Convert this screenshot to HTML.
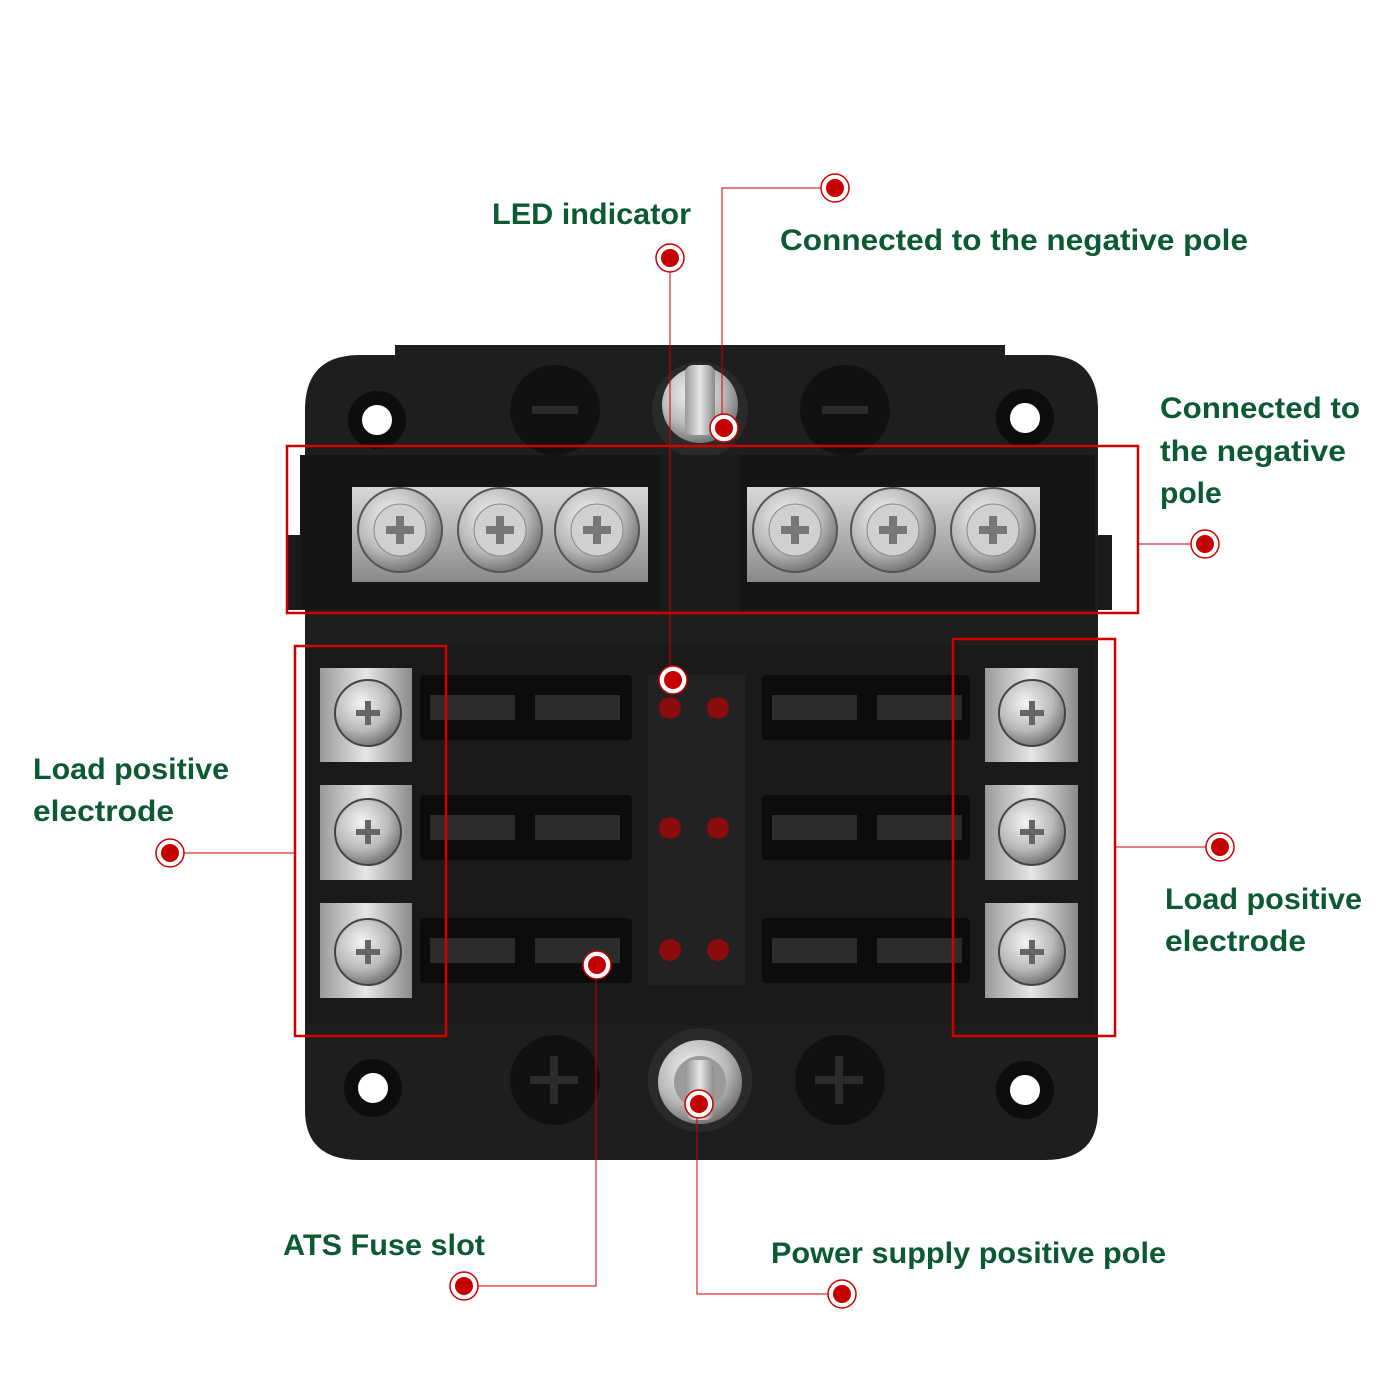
<!DOCTYPE html>
<html><head><meta charset="utf-8"><style>
html,body{margin:0;padding:0;background:#fff;}
svg{display:block}
text{font-family:"Liberation Sans",sans-serif;font-weight:bold;fill:#0b5a32;font-size:30px}
</style></head><body>
<svg width="1400" height="1400" viewBox="0 0 1400 1400" xmlns="http://www.w3.org/2000/svg">
<defs>
<radialGradient id="scr" cx="0.4" cy="0.35" r="0.7">
<stop offset="0" stop-color="#f4f4f4"/><stop offset="0.6" stop-color="#b9b9b9"/><stop offset="1" stop-color="#6a6a6a"/></radialGradient>
<linearGradient id="met" x1="0" y1="0" x2="0" y2="1"><stop offset="0" stop-color="#d8d8d8"/><stop offset="1" stop-color="#8a8a8a"/></linearGradient>
<linearGradient id="metv" x1="0" y1="0" x2="1" y2="0"><stop offset="0" stop-color="#9a9a9a"/><stop offset="0.5" stop-color="#e6e6e6"/><stop offset="1" stop-color="#8a8a8a"/></linearGradient>
<g id="screw"><circle r="42" fill="url(#scr)" stroke="#555" stroke-width="2"/><circle r="26" fill="#d0d0d0" stroke="#888"/><path d="M-14,-4h10v-10h8v10h10v8h-10v10h-8v-10h-10z" fill="#777"/></g>
<g id="tscrew"><circle r="33" fill="url(#scr)" stroke="#444" stroke-width="2"/><path d="M-12,-3h9v-9h6v9h9v6h-9v9h-6v-9h-9z" fill="#666"/></g>
<g id="mk"><circle r="14" fill="#fff" stroke="#c00" stroke-width="1.5"/><circle r="9" fill="#c40000"/></g>
</defs>
<!-- body -->
<path d="M395,345 H1005 V355 H1045 Q1098,355 1098,410 V1110 Q1098,1160 1045,1160 H360 Q305,1160 305,1110 V410 Q305,355 360,355 H395 Z" fill="#1e1e1e"/>
<rect x="300" y="455" width="795" height="155" fill="#151515"/>
<rect x="288" y="535" width="14" height="75" fill="#1a1a1a"/><rect x="1098" y="535" width="14" height="75" fill="#1a1a1a"/>
<circle cx="377" cy="420" r="22" fill="#fff" stroke="#0d0d0d" stroke-width="14"/>
<circle cx="1025" cy="418" r="22" fill="#fff" stroke="#0d0d0d" stroke-width="14"/>
<circle cx="373" cy="1088" r="22" fill="#fff" stroke="#0d0d0d" stroke-width="14"/>
<circle cx="1025" cy="1090" r="22" fill="#fff" stroke="#0d0d0d" stroke-width="14"/>
<circle cx="555" cy="410" r="45" fill="#111"/><rect x="532" y="406" width="46" height="8" fill="#2b2b2b"/>
<circle cx="845" cy="410" r="45" fill="#111"/><rect x="822" y="406" width="46" height="8" fill="#2b2b2b"/>
<circle cx="555" cy="1080" r="45" fill="#111"/><path d="M530,1076h20v-20h8v20h20v8h-20v20h-8v-20h-20z" fill="#2b2b2b"/>
<circle cx="840" cy="1080" r="45" fill="#111"/><path d="M815,1076h20v-20h8v20h20v8h-20v20h-8v-20h-20z" fill="#2b2b2b"/>
<!-- top stud -->
<circle cx="700" cy="410" r="48" fill="#2a2a2a"/><circle cx="700" cy="405" r="38" fill="url(#scr)"/><rect x="685" y="365" width="30" height="70" rx="8" fill="url(#metv)"/>
<!-- top bar -->
<rect x="352" y="487" width="296" height="95" fill="url(#met)"/><rect x="747" y="487" width="293" height="95" fill="url(#met)"/>
<use href="#screw" x="400" y="530"/><use href="#screw" x="500" y="530"/><use href="#screw" x="597" y="530"/>
<use href="#screw" x="795" y="530"/><use href="#screw" x="893" y="530"/><use href="#screw" x="993" y="530"/>
<rect x="660" y="455" width="80" height="155" fill="#1b1b1b"/>
<!-- fuse area -->
<rect x="305" y="645" width="790" height="380" fill="#1a1a1a"/>
<rect x="648" y="675" width="97" height="310" fill="#222"/>
<g fill="#0c0c0c">
<rect x="420" y="675" width="212" height="65" rx="4"/><rect x="420" y="795" width="212" height="65" rx="4"/><rect x="420" y="918" width="212" height="65" rx="4"/>
<rect x="762" y="675" width="208" height="65" rx="4"/><rect x="762" y="795" width="208" height="65" rx="4"/><rect x="762" y="918" width="208" height="65" rx="4"/></g>
<g fill="#2c2c2c">
<rect x="430" y="695" width="85" height="25"/><rect x="535" y="695" width="85" height="25"/><rect x="430" y="815" width="85" height="25"/><rect x="535" y="815" width="85" height="25"/><rect x="430" y="938" width="85" height="25"/><rect x="535" y="938" width="85" height="25"/>
<rect x="772" y="695" width="85" height="25"/><rect x="877" y="695" width="85" height="25"/><rect x="772" y="815" width="85" height="25"/><rect x="877" y="815" width="85" height="25"/><rect x="772" y="938" width="85" height="25"/><rect x="877" y="938" width="85" height="25"/></g>
<g fill="#8a0c0c"><circle cx="670" cy="708" r="11"/><circle cx="718" cy="708" r="11"/><circle cx="670" cy="828" r="11"/><circle cx="718" cy="828" r="11"/><circle cx="670" cy="950" r="11"/><circle cx="718" cy="950" r="11"/></g>
<!-- terminals -->
<g fill="url(#metv)">
<rect x="320" y="668" width="92" height="94"/><rect x="320" y="785" width="92" height="95"/><rect x="320" y="903" width="92" height="95"/>
<rect x="985" y="668" width="93" height="94"/><rect x="985" y="785" width="93" height="95"/><rect x="985" y="903" width="93" height="95"/></g>
<use href="#tscrew" x="368" y="713"/><use href="#tscrew" x="368" y="832"/><use href="#tscrew" x="368" y="952"/>
<use href="#tscrew" x="1032" y="713"/><use href="#tscrew" x="1032" y="832"/><use href="#tscrew" x="1032" y="952"/>
<!-- bottom stud -->
<circle cx="700" cy="1080" r="52" fill="#2a2a2a"/><circle cx="700" cy="1082" r="42" fill="url(#scr)"/><circle cx="700" cy="1082" r="26" fill="#9a9a9a"/><rect x="686" y="1060" width="28" height="60" rx="8" fill="url(#metv)"/>
<!-- red boxes -->
<g fill="none" stroke="#d00000" stroke-width="2.5">
<rect x="287" y="446" width="851" height="167"/>
<rect x="295" y="646" width="151" height="390"/>
<rect x="953" y="639" width="162" height="397"/></g>
<!-- connectors -->
<g fill="none" stroke="#c00" stroke-width="1">
<path d="M670,258 V680"/><path d="M835,188 H722 V428"/><path d="M1205,544 H1138"/>
<path d="M170,853 H296"/><path d="M1220,847 H1115"/>
<path d="M464,1286 H596 V965"/><path d="M842,1294 H697 V1104"/></g>
<use href="#mk" x="670" y="258"/><use href="#mk" x="673" y="680"/><use href="#mk" x="835" y="188"/><use href="#mk" x="724" y="428"/>
<use href="#mk" x="1205" y="544"/><use href="#mk" x="170" y="853"/><use href="#mk" x="1220" y="847"/>
<use href="#mk" x="464" y="1286"/><use href="#mk" x="597" y="965"/><use href="#mk" x="842" y="1294"/><use href="#mk" x="699" y="1104"/>
<!-- labels -->
<text x="492" y="224" textLength="199" lengthAdjust="spacingAndGlyphs">LED indicator</text>
<text x="780" y="250" textLength="468" lengthAdjust="spacingAndGlyphs">Connected to the negative pole</text>
<text x="1160" y="418" textLength="200" lengthAdjust="spacingAndGlyphs">Connected to</text>
<text x="1160" y="461" textLength="186" lengthAdjust="spacingAndGlyphs">the negative</text>
<text x="1160" y="503">pole</text>
<text x="33" y="779" textLength="196" lengthAdjust="spacingAndGlyphs">Load positive</text>
<text x="33" y="821" textLength="141" lengthAdjust="spacingAndGlyphs">electrode</text>
<text x="1165" y="909" textLength="197" lengthAdjust="spacingAndGlyphs">Load positive</text>
<text x="1165" y="951" textLength="141" lengthAdjust="spacingAndGlyphs">electrode</text>
<text x="283" y="1255" textLength="202" lengthAdjust="spacingAndGlyphs">ATS Fuse slot</text>
<text x="771" y="1263" textLength="395" lengthAdjust="spacingAndGlyphs">Power supply positive pole</text>
</svg>
</body></html>
